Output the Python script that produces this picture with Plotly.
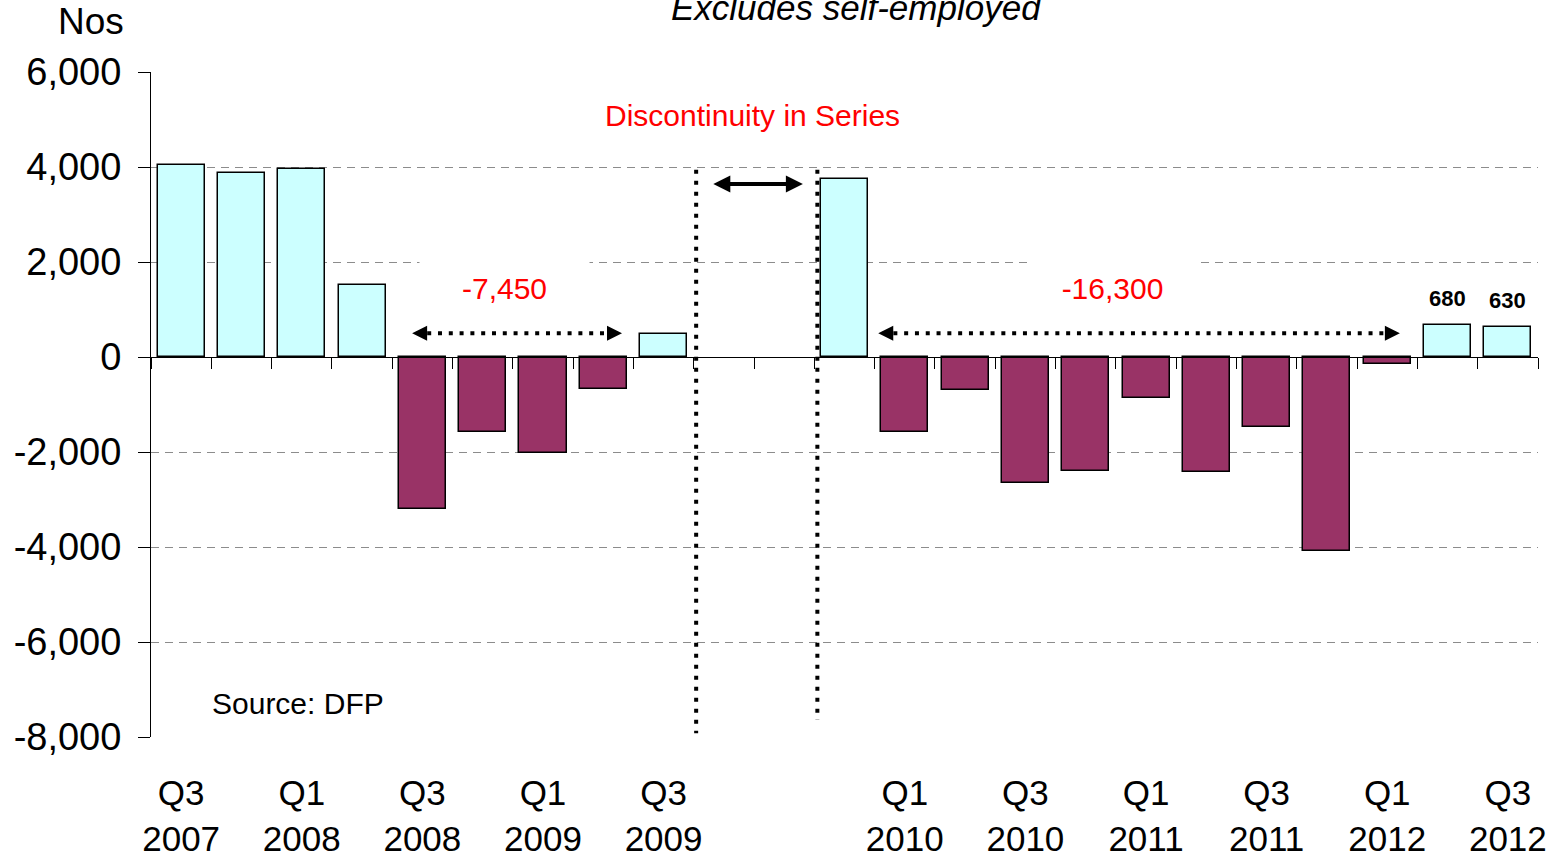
import plotly.graph_objects as go

# Quarterly change in employee jobs (Nos), old series
quarters_old = ["Q3 2007", "Q4 2007", "Q1 2008", "Q2 2008", "Q3 2008",
                "Q4 2008", "Q1 2009", "Q2 2009", "Q3 2009"]
change_old = [4040, 3870, 3960, 1520, -3190, -1570, -2015, -675, 480]

# New series after the discontinuity
quarters_new = ["Q4 2009", "Q1 2010", "Q2 2010", "Q3 2010", "Q4 2010",
                "Q1 2011", "Q2 2011", "Q3 2011", "Q4 2011", "Q1 2012",
                "Q2 2012", "Q3 2012"]
change_new = [3750, -1570, -690, -2660, -2400, -860, -2420, -1470, -4090,
              -140, 680, 630]

labelled_quarters = ["Q3 2007", "Q1 2008", "Q3 2008", "Q1 2009", "Q3 2009",
                     "Q1 2010", "Q3 2010", "Q1 2011", "Q3 2011", "Q1 2012",
                     "Q3 2012"]
y_ticks = [-8000, -6000, -4000, -2000, 0, 2000, 4000, 6000]

# Periods summarised by the dotted arrows
span_old = ("Q3 2008", "Q2 2009")
span_new = ("Q1 2010", "Q1 2012")
# Quarters whose values are printed above the bars
value_labelled = ["Q2 2012", "Q3 2012"]

GAP_SLOTS = 2
pos = {q: i for i, q in enumerate(quarters_old)}
pos.update({q: len(quarters_old) + GAP_SLOTS + i for i, q in enumerate(quarters_new)})
quarters = quarters_old + quarters_new
values = change_old + change_new
x_vals = [pos[q] for q in quarters]
val = dict(zip(quarters, values))
n_slots = len(quarters_old) + GAP_SLOTS + len(quarters_new)

POS_COL = "#CCFFFF"
NEG_COL = "#993366"
FONT = "Liberation Sans, Arial, sans-serif"
Y_MIN, Y_MAX = -8000, 6000

fig = go.Figure()
fig.add_trace(go.Bar(
    x=x_vals, y=values, width=0.78,
    marker=dict(color=[POS_COL if v >= 0 else NEG_COL for v in values],
                line=dict(color="black", width=1.5)),
    hoverinfo="skip", showlegend=False,
))

# second x axis drawn along y = 0 carrying the category boundary ticks
fig.add_trace(go.Scatter(x=[None], y=[None], xaxis="x2", showlegend=False))


def span_sum(span):
    a, b = pos[span[0]], pos[span[1]]
    return sum(v for q, v in zip(quarters, values) if a <= pos[q] <= b)


annotations = []
shapes = []

# dotted arrows with totals
arrow_y = 500
arrow_tips = {span_old: (3.83, 7.31), span_new: (11.56, 20.21)}
label_pos = {span_old: 5.37, span_new: 15.44}
head_len = 0.25
for span, (lt, rt) in arrow_tips.items():
    shapes.append(dict(type="line", xref="x", yref="y",
                       x0=lt + head_len, x1=rt - head_len, y0=arrow_y, y1=arrow_y,
                       line=dict(color="black", width=4, dash="4px,6.8px"), layer="above"))
    for tip, off in ((lt, 14), (rt, -14)):
        annotations.append(dict(x=tip, y=arrow_y, xref="x", yref="y", text="",
                                showarrow=True, ax=off, ay=0, arrowhead=2,
                                arrowsize=1, arrowwidth=3, arrowcolor="black"))
    annotations.append(dict(x=label_pos[span], y=1450, xref="x", yref="y",
                            xanchor="center", yanchor="middle",
                            text=f"{span_sum(span):,}", showarrow=False,
                            font=dict(family=FONT, size=30, color="#FF0000"),
                            bgcolor="white", width=167, height=58))

# discontinuity markers
for xd, ybot in ((8.54, -7920), (10.55, -7640)):
    shapes.append(dict(type="line", xref="x", yref="y", x0=xd, x1=xd,
                       y0=3940, y1=ybot,
                       line=dict(color="black", width=4, dash="4px,7px"), layer="above"))
annotations.append(dict(x=10.31, y=3640, ax=8.80, ay=3640, xref="x", yref="y",
                        axref="x", ayref="y", text="", showarrow=True,
                        arrowside="end+start", arrowhead=2, startarrowhead=2,
                        arrowsize=0.85, startarrowsize=0.85, arrowwidth=4,
                        arrowcolor="black"))

# values above the last bars
for q in value_labelled:
    annotations.append(dict(x=pos[q], y=val[q], xref="x", yref="y",
                            text=f"<b>{val[q]:,}</b>", showarrow=False,
                            xanchor="center", yanchor="bottom", yshift=12,
                            font=dict(family=FONT, size=22, color="black")))

annotations += [
    dict(x=0.5083, y=1.097, xref="paper", yref="paper",
         xanchor="center", yanchor="middle",
         text="<i>Excludes self-employed</i>", showarrow=False,
         font=dict(family=FONT, size=35, color="black")),
    dict(x=-0.0436, y=1.0752, xref="paper", yref="paper", text="Nos",
         xanchor="center", yanchor="middle",
         showarrow=False, font=dict(family=FONT, size=37, color="black")),
    dict(x=0.434, y=0.9353, xref="paper", yref="paper",
         xanchor="center", yanchor="middle",
         text="Discontinuity in Series", showarrow=False,
         font=dict(family=FONT, size=30, color="#FF0000")),
    dict(x=0.0425, y=0.0511, xref="paper", yref="paper",
         xanchor="left", yanchor="middle",
         text="Source: DFP", showarrow=False,
         font=dict(family=FONT, size=30, color="black")),
]

x_range = [-0.5, n_slots - 0.5]
fig.update_layout(
    width=1560, height=857,
    margin=dict(l=151, r=22, t=72, b=120),
    plot_bgcolor="white", paper_bgcolor="white",
    font=dict(family=FONT, color="black"),
    bargap=0,
    xaxis=dict(range=x_range, tickvals=[pos[q] for q in labelled_quarters],
               ticktext=[q.replace(" ", "<br>") for q in labelled_quarters],
               ticks="", showline=False, showgrid=False, zeroline=False,
               tickfont=dict(size=35), ticklabelstandoff=32, automargin=False),
    xaxis2=dict(range=x_range, overlaying="x", anchor="free",
                position=(0 - Y_MIN) / (Y_MAX - Y_MIN), side="bottom",
                tickvals=[i - 0.5 for i in range(n_slots + 1)],
                showticklabels=False, ticks="outside", ticklen=11,
                tickcolor="black", tickwidth=1, showline=True,
                linecolor="black", linewidth=1, showgrid=False,
                zeroline=False, layer="above traces", automargin=False),
    yaxis=dict(range=[Y_MIN, Y_MAX], tickvals=y_ticks,
               ticktext=[f"{v:,}" for v in y_ticks],
               ticks="outside", ticklen=12, tickcolor="black",
               showline=True, linecolor="black", linewidth=1,
               showgrid=True, gridcolor="#8c8c8c", gridwidth=1,
               griddash="8px,6px", zeroline=False,
               tickfont=dict(size=38), ticklabelstandoff=9, automargin=False),
    annotations=annotations,
    shapes=shapes,
)

fig.write_html("out.html")
